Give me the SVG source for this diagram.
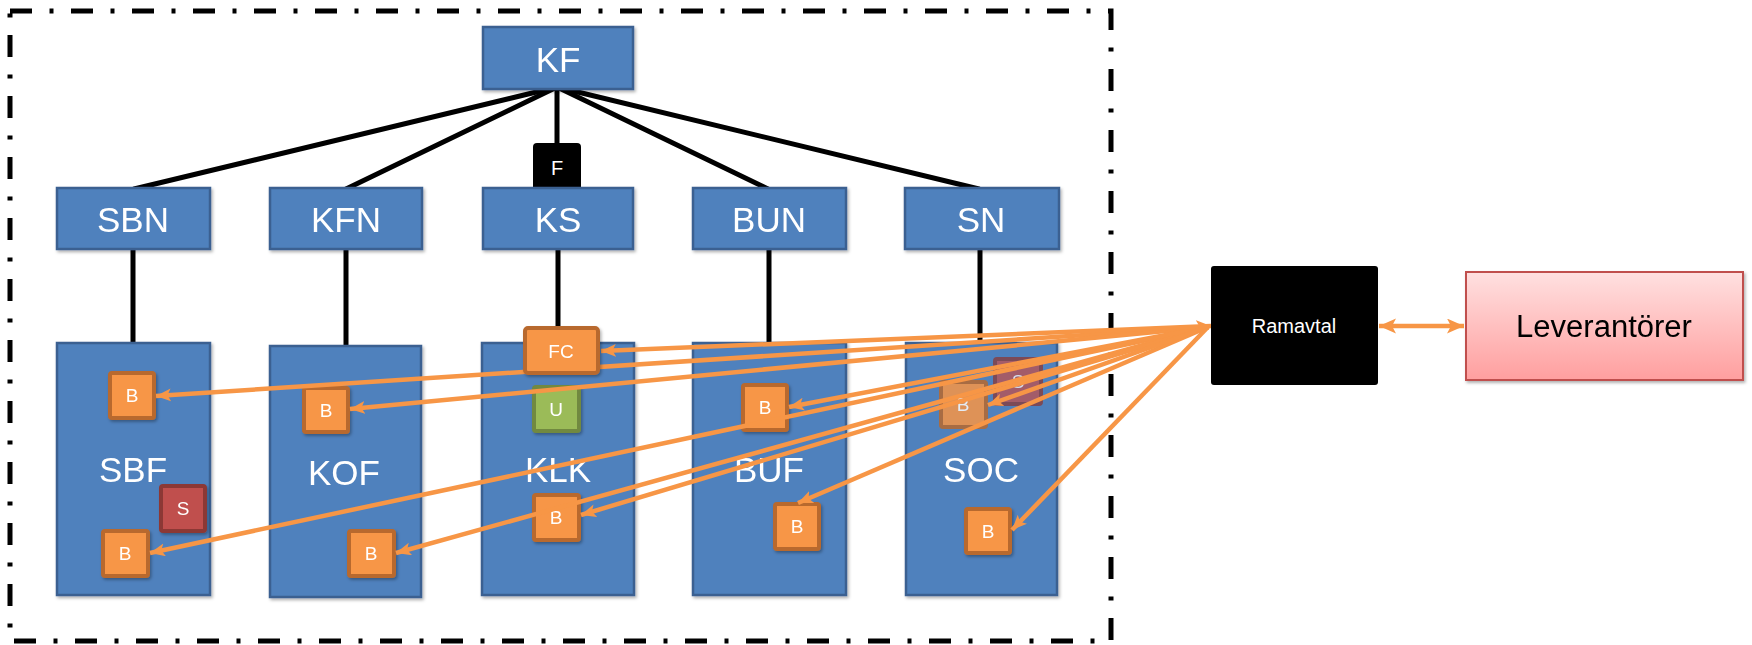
<svg xmlns="http://www.w3.org/2000/svg" width="1752" height="645" viewBox="0 0 1752 645">
<style>
  .blue{fill:#4f81bd;stroke:#3a6091;stroke-width:2.5}
  .lbl{font-family:"Liberation Sans",Arial,sans-serif;fill:#ffffff;text-anchor:middle}
  .big{font-size:35px}
  .sm{font-size:19px}
  .b{fill:#f79646;stroke:#b8692e;stroke-width:4}
  .s{fill:#c0504d;stroke:#8c3836;stroke-width:4}
  .u{fill:#9bbb59;stroke:#71893f;stroke-width:4}
  .tree line{stroke:#000;stroke-width:5;stroke-linecap:round}
  .oa{stroke:#f79646;stroke-width:4.5;fill:none}
</style>
<defs>
  <marker id="ah" markerUnits="userSpaceOnUse" markerWidth="18" markerHeight="15" refX="15" refY="6.5" orient="auto-start-reverse" viewBox="0 0 18 15">
    <path d="M0,0 L15,6.5 L0,13 L3.5,6.5 z" fill="#f79646"/>
  </marker>
  <marker id="ahL" markerUnits="userSpaceOnUse" markerWidth="19" markerHeight="16" refX="17" refY="7.5" orient="auto-start-reverse" viewBox="0 0 19 16">
    <path d="M0,0 L17,7.5 L0,15 L4,7.5 z" fill="#f79646"/>
  </marker>
  <linearGradient id="pink" x1="0" y1="0" x2="0" y2="1">
    <stop offset="0" stop-color="#ffe0e0"/>
    <stop offset="1" stop-color="#ff9f9f"/>
  </linearGradient>
  <filter id="sh" x="-10%" y="-10%" width="130%" height="130%">
    <feDropShadow dx="1.5" dy="2" stdDeviation="1.5" flood-color="#000" flood-opacity="0.3"/>
  </filter>
</defs>

<rect id="boundary" x="10" y="11" width="1101" height="630" fill="none" stroke="#000" stroke-width="5" stroke-dasharray="22 17.5 4 17.5"/>

<g class="tree" id="tree-lines">
  <line x1="557" y1="87" x2="134" y2="189"/>
  <line x1="557" y1="87" x2="346" y2="189"/>
  <line x1="557" y1="87" x2="557" y2="145"/>
  <line x1="557" y1="87" x2="768" y2="189"/>
  <line x1="557" y1="87" x2="979" y2="189"/>
  <line x1="133" y1="249" x2="133" y2="343"/>
  <line x1="346" y1="249" x2="346" y2="346"/>
  <line x1="558" y1="249" x2="558" y2="327"/>
  <line x1="769" y1="249" x2="769" y2="343"/>
  <line x1="980" y1="249" x2="980" y2="343"/>
</g>

<g id="KF" filter="url(#sh)"><rect class="blue" x="483" y="27" width="150" height="62"/><text class="lbl big" x="558" y="72">KF</text></g>
<g id="F"><rect x="533" y="143" width="48" height="49" rx="4" fill="#000"/><text class="lbl" font-size="20" x="557" y="175">F</text></g>

<g id="SBN" filter="url(#sh)"><rect class="blue" x="57" y="188" width="153" height="61"/><text class="lbl big" x="133" y="232">SBN</text></g>
<g id="KFN" filter="url(#sh)"><rect class="blue" x="270" y="188" width="152" height="61"/><text class="lbl big" x="346" y="232">KFN</text></g>
<g id="KS" filter="url(#sh)"><rect class="blue" x="483" y="188" width="150" height="61"/><text class="lbl big" x="558" y="232">KS</text></g>
<g id="BUN" filter="url(#sh)"><rect class="blue" x="693" y="188" width="153" height="61"/><text class="lbl big" x="769" y="232">BUN</text></g>
<g id="SN" filter="url(#sh)"><rect class="blue" x="905" y="188" width="154" height="61"/><text class="lbl big" x="981" y="232">SN</text></g>

<g id="SBF" filter="url(#sh)"><rect class="blue" x="57" y="343" width="153" height="252"/><text class="lbl big" x="133" y="482">SBF</text></g>
<g id="KOF" filter="url(#sh)"><rect class="blue" x="270" y="346" width="151" height="251"/><text class="lbl big" x="344" y="485">KOF</text></g>
<g id="KLK" filter="url(#sh)"><rect class="blue" x="482" y="343" width="152" height="252"/><text class="lbl big" x="558" y="482">KLK</text></g>
<g id="BUF" filter="url(#sh)"><rect class="blue" x="693" y="343" width="153" height="252"/><text class="lbl big" x="769" y="482">BUF</text></g>
<g id="SOC" filter="url(#sh)"><rect class="blue" x="906" y="343" width="151" height="252"/><text class="lbl big" x="981" y="482">SOC</text></g>

<g id="SBF-B1" filter="url(#sh)"><rect class="b" x="110" y="373" width="44" height="45" rx="2"/><text class="lbl sm" x="132" y="402">B</text></g>
<g id="SBF-S" filter="url(#sh)"><rect class="s" x="161" y="486" width="44" height="45" rx="2"/><text class="lbl sm" x="183" y="515">S</text></g>
<g id="SBF-B2" filter="url(#sh)"><rect class="b" x="103" y="531" width="45" height="45" rx="2"/><text class="lbl sm" x="125" y="560">B</text></g>
<g id="KOF-B1" filter="url(#sh)"><rect class="b" x="304" y="388" width="44" height="44" rx="2"/><text class="lbl sm" x="326" y="417">B</text></g>
<g id="KOF-B2" filter="url(#sh)"><rect class="b" x="349" y="531" width="45" height="45" rx="2"/><text class="lbl sm" x="371" y="560">B</text></g>
<g id="KLK-U" filter="url(#sh)"><rect class="u" x="534" y="387" width="45" height="44" rx="2"/><text class="lbl sm" x="556" y="416">U</text></g>
<g id="KLK-B" filter="url(#sh)"><rect class="b" x="534" y="495" width="45" height="45" rx="2"/><text class="lbl sm" x="556" y="524">B</text></g>
<g id="BUF-B1" filter="url(#sh)"><rect class="b" x="743" y="385" width="44" height="45" rx="2"/><text class="lbl sm" x="765" y="414">B</text></g>
<g id="BUF-B2" filter="url(#sh)"><rect class="b" x="775" y="504" width="44" height="45" rx="2"/><text class="lbl sm" x="797" y="533">B</text></g>
<g id="SOC-S" opacity="0.75"><rect class="s" x="995" y="359" width="46" height="45" rx="2"/><text class="lbl sm" x="1018" y="388">S</text></g>
<g id="SOC-B1" opacity="0.85"><rect class="b" x="941" y="382" width="45" height="45" rx="2"/><text class="lbl sm" x="963" y="411">B</text></g>
<g id="SOC-B2" filter="url(#sh)"><rect class="b" x="966" y="509" width="44" height="44" rx="2"/><text class="lbl sm" x="988" y="538">B</text></g>

<g id="connectors">
  <line class="oa" x1="1208" y1="327" x2="156" y2="396" marker-end="url(#ah)"/>
  <line class="oa" x1="1208" y1="327" x2="350" y2="409" marker-end="url(#ah)"/>
  <line class="oa" x1="1208" y1="327" x2="150" y2="553" marker-end="url(#ah)"/>
  <line class="oa" x1="1208" y1="327" x2="396" y2="553" marker-end="url(#ah)"/>
  <line class="oa" x1="1208" y1="327" x2="581" y2="515" marker-end="url(#ah)"/>
  <line class="oa" x1="1208" y1="327" x2="789" y2="407" marker-end="url(#ah)"/>
  <line class="oa" x1="1208" y1="327" x2="798" y2="503" marker-end="url(#ah)"/>
  <line class="oa" x1="1208" y1="327" x2="988" y2="405" marker-end="url(#ah)"/>
  <line class="oa" x1="1208" y1="327" x2="1012" y2="530" marker-end="url(#ah)"/>
  <line class="oa" x1="1211" y1="326" x2="601" y2="351" marker-start="url(#ah)" marker-end="url(#ah)"/>
  <line class="oa" x1="1379" y1="326" x2="1464" y2="326" marker-start="url(#ahL)" marker-end="url(#ahL)"/>
</g>

<g id="FC" filter="url(#sh)"><rect class="b" x="525" y="328" width="73" height="45" rx="3"/><text class="lbl sm" x="561" y="358">FC</text></g>

<g id="Ramavtal"><rect x="1211" y="266" width="167" height="119" rx="3" fill="#000"/><text x="1294" y="333" font-family="'Liberation Sans',Arial,sans-serif" font-size="20" fill="#fff" text-anchor="middle">Ramavtal</text></g>

<g id="Leverantorer" filter="url(#sh)"><rect x="1466" y="272" width="277" height="108" fill="url(#pink)" stroke="#c0504d" stroke-width="2"/><text x="1604" y="337" font-family="'Liberation Sans',Arial,sans-serif" font-size="31" fill="#000" text-anchor="middle">Leverantörer</text></g>
</svg>
